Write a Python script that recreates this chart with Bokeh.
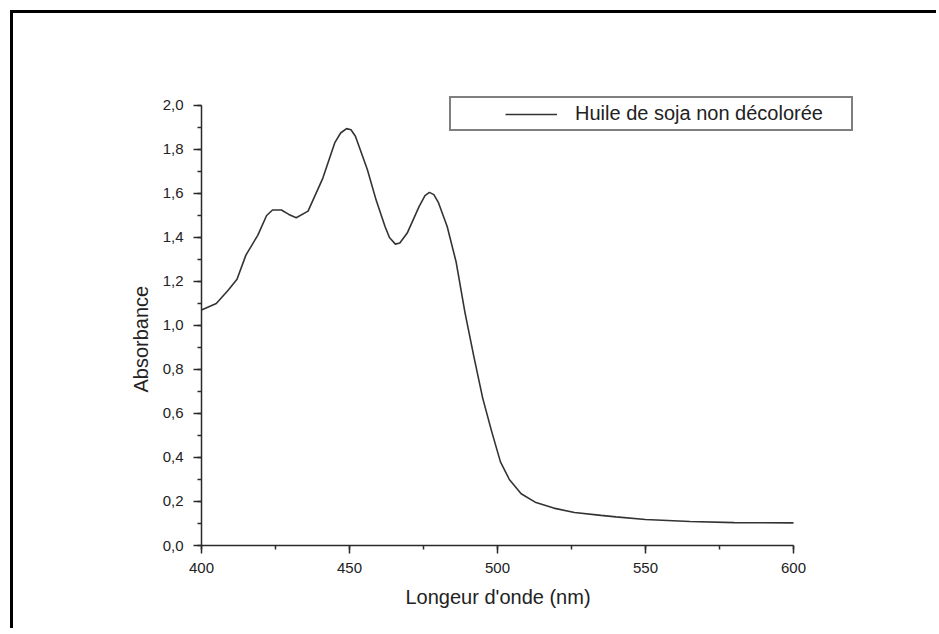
from bokeh.plotting import figure
from bokeh.models import (Range1d, SingleIntervalTicker, CustomJSTickFormatter,
                          Legend, LegendItem, Title)
from bokeh.embed import file_html
from bokeh.resources import INLINE

# Data
wavelength = [400, 405, 409, 412, 415, 419, 422, 424, 427, 429.5, 432, 436,
              441, 445, 447, 449, 450.5, 452, 456, 459, 462, 463.5, 465.5, 467,
              469.5, 473.5, 475.5, 477, 478.5, 480, 483, 486, 489, 492, 495,
              498, 501, 504, 508, 513, 519, 526, 535, 540, 550, 565, 580, 600]
absorbance = [1.07, 1.10, 1.16, 1.21, 1.32, 1.41, 1.50, 1.525, 1.525, 1.505,
              1.49, 1.52, 1.67, 1.83, 1.875, 1.895, 1.89, 1.86, 1.71, 1.57,
              1.45, 1.40, 1.37, 1.375, 1.42, 1.54, 1.59, 1.605, 1.595, 1.56,
              1.45, 1.29, 1.06, 0.86, 0.67, 0.52, 0.38, 0.30, 0.235, 0.195,
              0.17, 0.15, 0.137, 0.13, 0.118, 0.109, 0.104, 0.103]
series_label = "Huile de soja non décolorée"
x_title = "Longeur d'onde (nm)"
y_title = "Absorbance"

FONT = "Liberation Sans"
DARK = "#2b2b2b"
TEXT = "#222222"

p = figure(width=926, height=618, output_backend="svg", toolbar_location=None,
           x_range=Range1d(400, 622.64), y_range=Range1d(0, 2.07727),
           min_border_left=188, min_border_right=79,
           min_border_top=75, min_border_bottom=86)
p.styles = {"margin-left": "10px", "margin-top": "10px",
            "border-top": "3px solid #000", "border-left": "3px solid #000"}
p.outline_line_color = None
p.grid.visible = False
p.background_fill_color = "white"
p.border_fill_color = "white"

p.xaxis.bounds = (400, 600)
p.yaxis.bounds = (0, 2)
p.xaxis.ticker = SingleIntervalTicker(interval=50, num_minor_ticks=2)
p.yaxis.ticker = SingleIntervalTicker(interval=0.2, num_minor_ticks=2)
p.yaxis.formatter = CustomJSTickFormatter(code="return tick.toFixed(1).replace('.', ',');")

for ax in (p.xaxis[0], p.yaxis[0]):
    ax.axis_line_color = DARK
    ax.axis_line_width = 1.5
    ax.major_tick_line_color = DARK
    ax.major_tick_line_width = 1.5
    ax.minor_tick_line_color = DARK
    ax.minor_tick_line_width = 1.5
    ax.major_tick_in = 0
    ax.major_tick_out = 8
    ax.minor_tick_in = 0
    ax.minor_tick_out = 4
    ax.major_label_text_font = FONT
    ax.major_label_text_font_size = "15px"
    ax.major_label_text_color = TEXT

p.xaxis.major_label_standoff = 9
p.yaxis.major_label_standoff = 10

p.add_layout(Title(text=x_title, align="left", offset=204, standoff=16,
                   text_font=FONT, text_font_size="20px",
                   text_font_style="normal", text_color=TEXT), "below")
p.add_layout(Title(text=y_title, align="left", offset=153, standoff=16,
                   text_font=FONT, text_font_size="20px",
                   text_font_style="normal", text_color=TEXT), "left")

p.line(wavelength, absorbance, line_color="#333333", line_width=1.6)
legend_line = p.line(x=[float("nan")], y=[float("nan")], line_color="#333333",
                     line_width=1.6, line_dash="0 50 52 200")

legend = Legend(items=[LegendItem(label=series_label, renderers=[legend_line])],
                location=(248, 414), margin=0, padding=4, spacing=0,
                glyph_width=102, glyph_height=20, label_standoff=18,
                label_width=272, label_height=20,
                label_text_font=FONT, label_text_font_size="20px",
                label_text_color=TEXT,
                border_line_color="#000000", border_line_width=2,
                background_fill_color="white", background_fill_alpha=1)
p.add_layout(legend)

open("out.html", "w").write(file_html(p, INLINE))
